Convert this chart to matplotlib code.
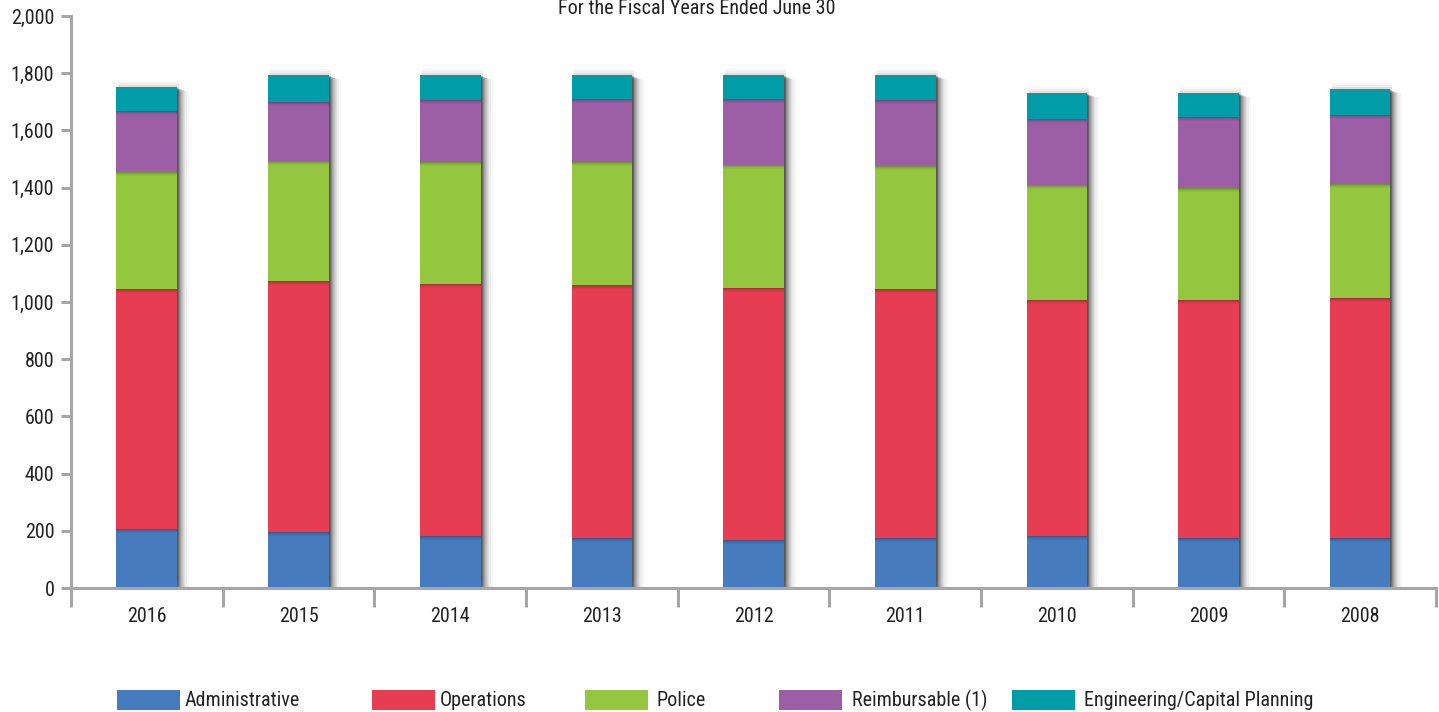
import matplotlib
matplotlib.use("Agg")
import matplotlib.pyplot as plt
import matplotlib.transforms as mtransforms
from matplotlib import font_manager
from matplotlib.textpath import TextPath
from matplotlib.font_manager import FontProperties
from matplotlib.patches import Rectangle
import numpy as np

years = ["2016", "2015", "2014", "2013", "2012", "2011", "2010", "2009", "2008"]
administrative = [206, 196, 183, 175, 168, 175, 182, 175, 175]
operations = [839, 877, 880, 884, 881, 870, 825, 832, 839]
police = [410, 420, 427, 431, 430, 431, 402, 392, 399]
reimbursable = [213, 206, 216, 219, 230, 230, 231, 247, 240]
engineering = [84, 95, 88, 85, 85, 88, 91, 85, 92]

series_names = ["Administrative", "Operations", "Police", "Reimbursable (1)",
                "Engineering/Capital Planning"]
series_values = [administrative, operations, police, reimbursable, engineering]
colors = ["#467BBE", "#E63D52", "#94C73F", "#9C5FA6", "#009DA9"]

# prefer a condensed sans face when one is installed
installed = {f.name for f in font_manager.fontManager.ttflist}
family = "Liberation Sans"
for cand in ["Liberation Sans Narrow", "Roboto Condensed", "Open Sans Condensed",
             "DejaVu Sans Condensed", "Roboto", "Liberation Sans"]:
    if cand in installed:
        family = cand
        break
plt.rcParams['font.family'] = [family, 'DejaVu Sans']

# size the text so the longest legend label spans about 225 px
probe = TextPath((0, 0), "Engineering/Capital Planning", size=10,
                 prop=FontProperties(family=family))
w10 = probe.get_extents().width * 100 / 72
FS = min(17.0, 10 * 228 / w10)

W, H = 1439, 712
fig = plt.figure(figsize=(W / 100, H / 100), dpi=100)
ax = fig.add_axes([71 / W, (H - 588) / H, (1436 - 71) / W, 572 / H])

x = np.arange(len(years))
bar_w = 0.4
totals = np.sum(np.array(series_values), axis=0)

# soft drop shadow behind each stacked column
for dx, dy, a in [(1, -1, 0.16), (2, -1, 0.14), (3, -2, 0.12), (4, -2, 0.10),
                  (5, -2, 0.08), (6, -3, 0.07), (7, -3, 0.06), (8, -3, 0.05),
                  (10, -4, 0.04), (12, -4, 0.03)]:
    shadow = ax.bar(x, totals, width=bar_w, color="black", alpha=a,
                    linewidth=0, zorder=1)
    off = mtransforms.ScaledTranslation(dx / 100, dy / 100, fig.dpi_scale_trans)
    for p in shadow.patches:
        p.set_transform(ax.transData + off)
# faint halo above each column
for k, a in [(2, 0.05), (4, 0.04), (6, 0.03)]:
    halo = ax.bar(x, totals, width=bar_w, color="black", alpha=a,
                  linewidth=0, zorder=1)
    off = mtransforms.ScaledTranslation(2 / 100, k / 100, fig.dpi_scale_trans)
    for p in halo.patches:
        p.set_transform(ax.transData + off)

bottom = np.zeros(len(years))
for vals, col in zip(series_values, colors):
    vals = np.array(vals, dtype=float)
    ax.bar(x, vals, width=bar_w, bottom=bottom, color=col, linewidth=0, zorder=2)
    bottom += vals

# thin inner shading just below each segment boundary
bottom = np.zeros(len(years))
for vals in series_values[:-1]:
    bottom += np.array(vals, dtype=float)
    for depth, a in [(1, 0.10), (2, 0.07), (3, 0.05), (4, 0.03)]:
        sh = ax.bar(x, [0] * len(x), width=bar_w, bottom=bottom, color="black",
                    alpha=a, linewidth=0, zorder=3)
        for p in sh.patches:
            p.set_height(-depth * 2000 / 572)

ax.set_xlim(-0.5, len(years) - 0.5)
ax.set_ylim(0, 2000)
ax.set_yticks(np.arange(0, 2001, 200))
ax.set_yticklabels([f"{v:,}" for v in range(0, 2001, 200)])
ax.set_xticks(x)
ax.set_xticklabels(years)
ax.set_xticks(np.arange(-0.5, len(years)), minor=True)

for s in ["top", "right"]:
    ax.spines[s].set_visible(False)
for s in ["left", "bottom"]:
    ax.spines[s].set_color("#A6A6A6")
    ax.spines[s].set_linewidth(2.2)
ax.tick_params(axis="y", length=7, width=2.2, color="#A6A6A6", labelsize=FS,
               labelcolor="#222222", pad=5)
ax.tick_params(axis="x", which="major", length=0, labelsize=FS,
               labelcolor="#222222", pad=14)
ax.tick_params(axis="x", which="minor", length=14, width=2.2, color="#A6A6A6")

fig.text(697 / W, 1 - 9 / H, "For the Fiscal Years Ended June 30", ha="center",
         va="center", fontsize=FS, color="#222222")

# legend row along the bottom edge
patch_x = [117, 372, 585, 779, 1012]
text_x = [185, 440, 657, 852, 1084]
for name, col, px, tx in zip(series_names, colors, patch_x, text_x):
    fig.add_artist(Rectangle((px / W, 1 - 710 / H), 63 / W, 20 / H,
                             transform=fig.transFigure, color=col, linewidth=0))
    fig.text(tx / W, 1 - 700 / H, name, ha="left", va="center", fontsize=FS,
             color="#222222")

fig.savefig("out.png", dpi=100)
